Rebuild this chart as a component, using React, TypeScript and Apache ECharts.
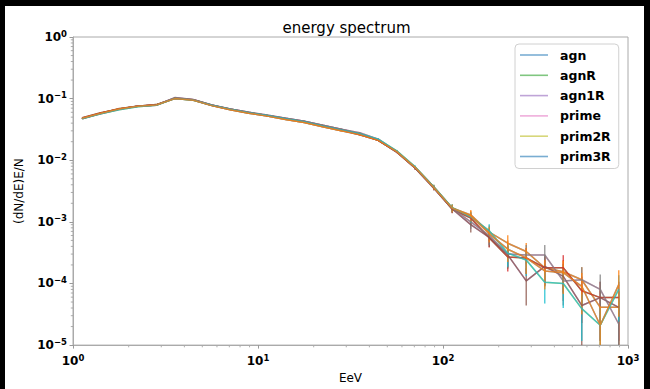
import React, { useEffect, useRef } from "react";
import * as echarts from "echarts";

// Energy bin centres (EeV)
const energy = [
  1.122, 1.413, 1.778, 2.239, 2.818, 3.548, 4.467, 5.623, 7.079, 8.913,
  11.22, 14.13, 17.78, 22.39, 28.18, 35.48, 44.67, 56.23, 70.79, 89.13,
  112.2, 141.3, 177.8, 223.9, 281.8, 354.8, 446.7, 562.3, 707.9, 891.3,
];

// (dN/dE)E/N per series
const agn = [
  0.048, 0.058, 0.069, 0.075, 0.079, 0.1, 0.095, 0.077, 0.066, 0.058,
  0.052, 0.046, 0.041, 0.035, 0.03, 0.027, 0.021, 0.014, 0.0077, 0.0037,
  0.00168, 0.0013, 0.00068, 0.00045, 0.00033, 0.00018, 0.000155, 0.000115, 0.000041, 0.000041,
];
const agnR = [
  0.049, 0.059, 0.068, 0.075, 0.08, 0.101, 0.096, 0.078, 0.067, 0.059,
  0.053, 0.047, 0.042, 0.036, 0.031, 0.026, 0.021, 0.0135, 0.0074, 0.0036,
  0.0016, 0.00115, 0.00055, 0.00027, 0.00026, 0.00018, 0.00018, 0.000076, 0.000059, 0.000059,
];
const agn1R = [
  0.047, 0.058, 0.068, 0.076, 0.079, 0.103, 0.096, 0.079, 0.068, 0.06,
  0.053, 0.048, 0.043, 0.037, 0.032, 0.027, 0.021, 0.0136, 0.0074, 0.0035,
  0.00162, 0.0009, 0.00056, 0.00029, 0.00011, 0.00019, 0.00013, 0.000044, 0.000059, 0.000041,
];
const prime = [
  0.048, 0.057, 0.067, 0.075, 0.078, 0.104, 0.097, 0.079, 0.068, 0.06,
  0.054, 0.048, 0.043, 0.037, 0.032, 0.028, 0.022, 0.0138, 0.0075, 0.0036,
  0.00165, 0.001, 0.0006, 0.0003, 0.00029, 0.00029, 0.00011, 0.000115, 0.00008, 0.000022,
];
const prim2R = [
  0.047, 0.057, 0.066, 0.074, 0.078, 0.1, 0.094, 0.078, 0.067, 0.059,
  0.053, 0.047, 0.042, 0.036, 0.031, 0.027, 0.022, 0.0142, 0.0078, 0.0037,
  0.0017, 0.0012, 0.00072, 0.00031, 0.00024, 0.000105, 0.0001, 0.000039, 0.000021, 0.00008,
];
const prim3R = [
  0.048, 0.058, 0.068, 0.075, 0.079, 0.1, 0.094, 0.077, 0.066, 0.058,
  0.052, 0.046, 0.041, 0.035, 0.03, 0.026, 0.021, 0.0138, 0.0076, 0.0036,
  0.00167, 0.00125, 0.00064, 0.00036, 0.00026, 0.00016, 0.00015, 0.00009, 0.000021, 0.000096,
];

// relative (symmetric) errors per series
const agnErr = [
  0.01, 0.01, 0.01, 0.01, 0.01, 0.01, 0.01, 0.01, 0.01, 0.01,
  0.01, 0.012, 0.013, 0.015, 0.017, 0.02, 0.025, 0.035, 0.05, 0.08,
  0.15, 0.2, 0.28, 0.35, 0.38, 0.5, 0.55, 0.6, 0.85, 0.75,
];
const agnRErr = [
  0.01, 0.01, 0.01, 0.01, 0.01, 0.01, 0.01, 0.01, 0.01, 0.01,
  0.01, 0.012, 0.013, 0.015, 0.017, 0.02, 0.025, 0.035, 0.05, 0.08,
  0.14, 0.22, 0.3, 0.42, 0.45, 0.5, 0.6, 0.7, 0.8, 0.8,
];
const agn1RErr = [
  0.01, 0.01, 0.01, 0.01, 0.01, 0.01, 0.01, 0.01, 0.01, 0.01,
  0.01, 0.012, 0.013, 0.015, 0.017, 0.02, 0.025, 0.035, 0.05, 0.08,
  0.14, 0.25, 0.3, 0.4, 0.6, 0.5, 0.6, 0.8, 0.8, 0.85,
];
const primeErr = [
  0.01, 0.01, 0.01, 0.01, 0.01, 0.01, 0.01, 0.01, 0.01, 0.01,
  0.01, 0.012, 0.013, 0.015, 0.017, 0.02, 0.025, 0.035, 0.05, 0.08,
  0.14, 0.23, 0.3, 0.4, 0.45, 0.45, 0.6, 0.6, 0.75, 1.0,
];
const prim2RErr = [
  0.01, 0.01, 0.01, 0.01, 0.01, 0.01, 0.01, 0.01, 0.01, 0.01,
  0.01, 0.012, 0.013, 0.015, 0.017, 0.02, 0.025, 0.035, 0.05, 0.08,
  0.14, 0.2, 0.27, 0.4, 0.45, 0.55, 0.6, 0.7, 0.95, 0.7,
];
const prim3RErr = [
  0.01, 0.01, 0.01, 0.01, 0.01, 0.01, 0.01, 0.01, 0.01, 0.01,
  0.01, 0.012, 0.013, 0.015, 0.017, 0.02, 0.025, 0.035, 0.05, 0.08,
  0.14, 0.2, 0.28, 0.38, 0.45, 0.5, 0.55, 0.65, 1.0, 0.7,
];

const seriesNames = ["agn", "agnR", "agn1R", "prime", "prim2R", "prim3R"];
const seriesValues = [agn, agnR, agn1R, prime, prim2R, prim3R];
const seriesErrors = [agnErr, agnRErr, agn1RErr, primeErr, prim2RErr, prim3RErr];
// colours of the plotted lines (legend) and of the error-bar overlays
const plotColors = [
  "rgba(31,119,180,0.6)",
  "rgba(44,160,44,0.6)",
  "rgba(148,103,189,0.6)",
  "rgba(227,119,194,0.6)",
  "rgba(188,189,34,0.6)",
  "rgba(31,119,180,0.6)",
];
const errColors = [
  "rgba(255,127,14,0.75)",
  "rgba(214,39,40,0.75)",
  "rgba(140,86,75,0.75)",
  "rgba(127,127,127,0.75)",
  "rgba(23,190,207,0.75)",
  "rgba(255,127,14,0.75)",
];

const Y_MIN = 1e-5;
const Y_MAX = 1;
const X_MIN = 1;
const X_MAX = 1000;

const FONT = "DejaVu Sans";

function supLabel(v: number) {
  const e = Math.round(Math.log10(v));
  const s = e < 0 ? "\u2212" + String(-e) : String(e);
  return `{b|10}{s|${s}}`;
}

const rich = {
  b: { fontSize: 12, fontWeight: "bold", fontFamily: FONT, color: "#000", lineHeight: 16 },
  s: { fontSize: 8.5, fontWeight: "bold", fontFamily: FONT, color: "#000", lineHeight: 8, verticalAlign: "top" },
};

export default function App() {
  const ref = useRef<HTMLDivElement>(null);
  useEffect(() => {
    if (!ref.current) return;
    const chart = echarts.init(ref.current, null, { renderer: "svg" });

    const series: any[] = [];
    seriesNames.forEach((name, i) => {
      series.push({
        name,
        type: "line",
        data: energy.map((x, k) => [x, seriesValues[i][k]]),
        symbol: "none",
        lineStyle: { width: 1.5, color: plotColors[i] },
        itemStyle: { color: plotColors[i] },
        z: 2,
        silent: true,
      });
    });
    seriesNames.forEach((name, i) => {
      const c = errColors[i];
      series.push({
        name: name + " err",
        type: "line",
        data: energy.map((x, k) => [x, seriesValues[i][k]]),
        symbol: "none",
        lineStyle: { width: 1.5, color: c },
        itemStyle: { color: c },
        z: 3,
        silent: true,
      });
      series.push({
        name: name + " bars",
        type: "custom",
        z: 3,
        silent: true,
        encode: { x: 0, y: [1, 2] },
        data: energy.map((x, k) => {
          const y = seriesValues[i][k];
          const e = y * seriesErrors[i][k];
          return [x, Math.max(y - e, Y_MIN), y + e];
        }),
        renderItem: (_p: any, api: any) => {
          const x = api.value(0);
          const p1 = api.coord([x, api.value(1)]);
          const p2 = api.coord([x, api.value(2)]);
          return {
            type: "line",
            shape: { x1: p1[0], y1: p1[1], x2: p2[0], y2: p2[1] },
            style: { stroke: c, lineWidth: 1.5 },
          };
        },
      });
    });

    const option: any = {
      animation: false,
      backgroundColor: "#fff",
      grid: {
        left: 61,
        top: 31,
        width: 562,
        height: 315,
        show: true,
        borderColor: "#aaa",
        borderWidth: 1,
        backgroundColor: "#fff",
        containLabel: false,
      },
      legend: {
        data: seriesNames,
        orient: "vertical",
        left: 510,
        top: 38,
        icon: "rect",
        itemWidth: 28,
        itemHeight: 1.6,
        itemGap: 6.3,
        padding: [4, 8, 5, 5],
        borderColor: "#d0d0d0",
        borderWidth: 1,
        borderRadius: 4,
        backgroundColor: "rgba(255,255,255,0.8)",
        textStyle: {
          fontFamily: FONT,
          fontWeight: "bold",
          fontSize: 12.5,
          color: "#000",
          lineHeight: 14,
          padding: [0, 0, 0, 7],
        },
      },
      xAxis: {
        type: "log",
        logBase: 10,
        min: X_MIN,
        max: X_MAX,
        splitNumber: 3,
        name: "EeV",
        nameLocation: "middle",
        nameGap: 26,
        nameTextStyle: { fontFamily: FONT, fontSize: 12, color: "#000" },
        axisLine: { show: true, lineStyle: { color: "#aaa", width: 1 } },
        axisTick: { show: true, inside: false, length: 3.5, lineStyle: { color: "#999" } },
        splitLine: { show: false },
        axisLabel: { formatter: supLabel, rich, margin: 8 },
      },
      yAxis: {
        type: "log",
        logBase: 10,
        min: Y_MIN,
        max: Y_MAX,
        splitNumber: 5,
        name: "(dN/dE)E/N",
        nameLocation: "middle",
        nameGap: 48,
        nameRotate: 90,
        nameTextStyle: { fontFamily: FONT, fontSize: 12, color: "#000" },
        axisLine: { show: true, lineStyle: { color: "#aaa", width: 1 } },
        axisTick: { show: true, inside: false, length: 3.5, lineStyle: { color: "#999" } },
        splitLine: { show: false },
        axisLabel: { formatter: supLabel, rich, margin: 6 },
      },
      series,
    };
    chart.setOption(option);

    // minor ticks + title
    const graphics: any[] = [];
    const left = chart.convertToPixel({ xAxisIndex: 0 }, X_MIN) as number;
    const bottom = chart.convertToPixel({ yAxisIndex: 0 }, Y_MIN) as number;
    const top = chart.convertToPixel({ yAxisIndex: 0 }, Y_MAX) as number;
    const right = chart.convertToPixel({ xAxisIndex: 0 }, X_MAX) as number;
    for (let d = 0; d < 3; d++) {
      for (let m = 2; m <= 9; m++) {
        const px = chart.convertToPixel({ xAxisIndex: 0 }, m * Math.pow(10, d)) as number;
        graphics.push({
          type: "line",
          silent: true,
          shape: { x1: px, y1: bottom, x2: px, y2: bottom + 2.2 },
          style: { stroke: "#999", lineWidth: 0.8 },
        });
      }
    }
    for (let d = -5; d < 0; d++) {
      for (let m = 2; m <= 9; m++) {
        const py = chart.convertToPixel({ yAxisIndex: 0 }, m * Math.pow(10, d)) as number;
        graphics.push({
          type: "line",
          silent: true,
          shape: { x1: left - 2.2, y1: py, x2: left, y2: py },
          style: { stroke: "#999", lineWidth: 0.8 },
        });
      }
    }
    graphics.push({
      type: "text",
      silent: true,
      x: (left + right) / 2 - 4,
      y: top - 9,
      style: {
        text: "energy spectrum",
        fill: "#000",
        font: `15px "${FONT}"`,
        align: "center",
        verticalAlign: "middle",
        textAlign: "center",
        textVerticalAlign: "middle",
      },
    });
    chart.setOption({ graphic: graphics });

    return () => chart.dispose();
  }, []);

  return (
    <div
      style={{
        position: "fixed",
        left: 0,
        top: 0,
        width: 650,
        height: 389,
        background: "#000",
      }}
    >
      <div
        ref={ref}
        style={{
          position: "absolute",
          left: 5,
          top: 6,
          width: 639,
          height: 383,
          background: "#fff",
        }}
      />
    </div>
  );
}
